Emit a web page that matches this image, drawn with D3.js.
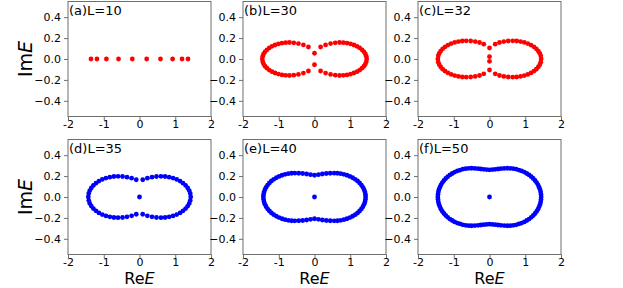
<!DOCTYPE html>
<html><head><meta charset="utf-8">
<script src="https://cdn.jsdelivr.net/npm/d3@7"></script>
<style>body{margin:0;background:#fff}svg{display:block}text{font-family:"DejaVu Sans",sans-serif}</style>
</head><body><svg id="c" width="623" height="288"></svg>
<script>
const titles = ["(a)L=10","(b)L=30","(c)L=32","(d)L=35","(e)L=40","(f)L=50"];
const xTicks = [-2,-1,0,1,2];
const xTickLabels = ["-2","-1","0","1","2"];
const yTicks = [0.4,0.2,0,-0.2,-0.4];
const yTickLabels = ["0.4","0.2","0.0","\u22120.2","\u22120.4"];

const reA = [-1.357,-1.190,-0.926,-0.587,-0.201,0.201,0.587,0.926,1.190,1.357];
const imA = [0,0,0,0,0,0,0,0,0,0];

const reB = [0.17,0.31,0.45,0.58,0.70,0.806,0.909,1.009,1.103,1.189,1.265,1.330,1.383,1.423,1.448,1.46,
 1.448,1.423,1.383,1.330,1.265,1.189,1.103,1.009,0.909,0.806,0.70,0.58,0.45,0.31,0.17,
 -0.17,-0.31,-0.45,-0.58,-0.70,-0.806,-0.909,-1.009,-1.103,-1.189,-1.265,-1.330,-1.383,-1.423,-1.448,-1.46,
 -1.448,-1.423,-1.383,-1.330,-1.265,-1.189,-1.103,-1.009,-0.909,-0.806,-0.70,-0.58,-0.45,-0.31,-0.17,
 0,0];
const imB = [0.115,0.135,0.148,0.155,0.158,0.156,0.152,0.144,0.134,0.121,0.106,0.088,0.069,0.049,0.027,0,
 -0.027,-0.049,-0.069,-0.088,-0.106,-0.121,-0.134,-0.144,-0.152,-0.156,-0.158,-0.155,-0.148,-0.135,-0.115,
 0.115,0.135,0.148,0.155,0.158,0.156,0.152,0.144,0.134,0.121,0.106,0.088,0.069,0.049,0.027,0,
 -0.027,-0.049,-0.069,-0.088,-0.106,-0.121,-0.134,-0.144,-0.152,-0.156,-0.158,-0.155,-0.148,-0.135,-0.115,
 0.055,-0.055];

const reC = [0.16,0.28,0.40,0.525,0.65,0.761,0.869,0.973,1.071,1.161,1.241,1.309,1.365,1.406,1.433,1.445,
 1.433,1.406,1.365,1.309,1.241,1.161,1.071,0.973,0.869,0.761,0.65,0.525,0.40,0.28,0.16,
 -0.16,-0.28,-0.40,-0.525,-0.65,-0.761,-0.869,-0.973,-1.071,-1.161,-1.241,-1.309,-1.365,-1.406,-1.433,-1.445,
 -1.433,-1.406,-1.365,-1.309,-1.241,-1.161,-1.071,-0.973,-0.869,-0.761,-0.65,-0.525,-0.40,-0.28,-0.16,
 0,0,0,0];
const imC = [0.142,0.158,0.167,0.172,0.174,0.172,0.167,0.159,0.148,0.133,0.116,0.097,0.076,0.054,0.030,0,
 -0.030,-0.054,-0.076,-0.097,-0.116,-0.133,-0.148,-0.159,-0.167,-0.172,-0.174,-0.172,-0.167,-0.158,-0.142,
 0.142,0.158,0.167,0.172,0.174,0.172,0.167,0.159,0.148,0.133,0.116,0.097,0.076,0.054,0.030,0,
 -0.030,-0.054,-0.076,-0.097,-0.116,-0.133,-0.148,-0.159,-0.167,-0.172,-0.174,-0.172,-0.167,-0.158,-0.142,
 0.105,0.022,-0.022,-0.105];

const reD = [0.09,0.22,0.35,0.475,0.60,0.716,0.829,0.938,1.041,1.135,1.218,1.290,1.348,1.391,1.419,1.432,
 1.419,1.391,1.348,1.290,1.218,1.135,1.041,0.938,0.829,0.716,0.60,0.475,0.35,0.22,0.09,
 -0.09,-0.22,-0.35,-0.475,-0.60,-0.716,-0.829,-0.938,-1.041,-1.135,-1.218,-1.290,-1.348,-1.391,-1.419,-1.432,
 -1.419,-1.391,-1.348,-1.290,-1.218,-1.135,-1.041,-0.938,-0.829,-0.716,-0.60,-0.475,-0.35,-0.22,-0.09,
 0];
const imD = [0.165,0.180,0.190,0.196,0.198,0.196,0.190,0.181,0.168,0.152,0.132,0.111,0.087,0.061,0.034,0,
 -0.034,-0.061,-0.087,-0.111,-0.132,-0.152,-0.168,-0.181,-0.190,-0.196,-0.198,-0.196,-0.190,-0.180,-0.165,
 0.165,0.180,0.190,0.196,0.198,0.196,0.190,0.181,0.168,0.152,0.132,0.111,0.087,0.061,0.034,0,
 -0.034,-0.061,-0.087,-0.111,-0.132,-0.152,-0.168,-0.181,-0.190,-0.196,-0.198,-0.196,-0.190,-0.180,-0.165,
 0];

const reE = [0.11,0.22,0.33,0.44,0.55,0.642,0.733,0.822,0.908,0.990,1.067,1.139,1.204,1.262,1.312,1.354,1.387,1.411,1.425,1.430,
 1.425,1.411,1.387,1.354,1.312,1.262,1.204,1.139,1.067,0.990,0.908,0.822,0.733,0.642,0.55,0.44,0.33,0.22,0.11,
 -0.11,-0.22,-0.33,-0.44,-0.55,-0.642,-0.733,-0.822,-0.908,-0.990,-1.067,-1.139,-1.204,-1.262,-1.312,-1.354,-1.387,-1.411,-1.425,-1.430,
 -1.425,-1.411,-1.387,-1.354,-1.312,-1.262,-1.204,-1.139,-1.067,-0.990,-0.908,-0.822,-0.733,-0.642,-0.55,-0.44,-0.33,-0.22,-0.11,
 0,0,0];
const imE = [0.214,0.220,0.225,0.227,0.228,0.227,0.223,0.217,0.208,0.197,0.184,0.169,0.153,0.134,0.114,0.093,0.070,0.047,0.024,0,
 -0.024,-0.047,-0.070,-0.093,-0.114,-0.134,-0.153,-0.169,-0.184,-0.197,-0.208,-0.217,-0.223,-0.227,-0.228,-0.227,-0.225,-0.220,-0.214,
 0.214,0.220,0.225,0.227,0.228,0.227,0.223,0.217,0.208,0.197,0.184,0.169,0.153,0.134,0.114,0.093,0.070,0.047,0.024,0,
 -0.024,-0.047,-0.070,-0.093,-0.114,-0.134,-0.153,-0.169,-0.184,-0.197,-0.208,-0.217,-0.223,-0.227,-0.228,-0.227,-0.225,-0.220,-0.214,
 0.208,-0.208,0];

const reF = [0.08,0.16,0.24,0.32,0.41,0.50,0.582,0.664,0.745,0.823,0.899,0.973,1.042,1.107,1.168,1.224,1.274,1.318,1.356,1.388,1.413,1.431,1.441,1.445,
 1.441,1.431,1.413,1.388,1.356,1.318,1.274,1.224,1.168,1.107,1.042,0.973,0.899,0.823,0.745,0.664,0.582,0.50,0.41,0.32,0.24,0.16,0.08,
 -0.08,-0.16,-0.24,-0.32,-0.41,-0.50,-0.582,-0.664,-0.745,-0.823,-0.899,-0.973,-1.042,-1.107,-1.168,-1.224,-1.274,-1.318,-1.356,-1.388,-1.413,-1.431,-1.441,-1.445,
 -1.441,-1.431,-1.413,-1.388,-1.356,-1.318,-1.274,-1.224,-1.168,-1.107,-1.042,-0.973,-0.899,-0.823,-0.745,-0.664,-0.582,-0.50,-0.41,-0.32,-0.24,-0.16,-0.08,
 0,0,0];
const imF = [0.262,0.265,0.268,0.271,0.273,0.275,0.274,0.271,0.266,0.258,0.249,0.238,0.225,0.211,0.194,0.177,0.158,0.138,0.116,0.094,0.071,0.048,0.024,0,
 -0.024,-0.048,-0.071,-0.094,-0.116,-0.138,-0.158,-0.177,-0.194,-0.211,-0.225,-0.238,-0.249,-0.258,-0.266,-0.271,-0.274,-0.275,-0.273,-0.271,-0.268,-0.265,-0.262,
 0.262,0.265,0.268,0.271,0.273,0.275,0.274,0.271,0.266,0.258,0.249,0.238,0.225,0.211,0.194,0.177,0.158,0.138,0.116,0.094,0.071,0.048,0.024,0,
 -0.024,-0.048,-0.071,-0.094,-0.116,-0.138,-0.158,-0.177,-0.194,-0.211,-0.225,-0.238,-0.249,-0.258,-0.266,-0.271,-0.274,-0.275,-0.273,-0.271,-0.268,-0.265,-0.262,
 0.26,-0.26,0];

const panelRe = [reA, reB, reC, reD, reE, reF];
const panelIm = [imA, imB, imC, imD, imE, imF];
const panelColor = ["#ff0000","#ff0000","#ff0000","#0000ff","#0000ff","#0000ff"];

const svg = d3.select("#c");
const colX = [68, 243, 418], pw = 143;
const rowY = [1.5, 139.5], ph = 115;
const spine = "#6e6e6e";

titles.forEach((t, i) => {
  const r = Math.floor(i / 3), c = i % 3;
  const x0 = colX[c], y0 = rowY[r];
  const x = d3.scaleLinear().domain([-2, 2]).range([x0, x0 + pw]);
  const y = d3.scaleLinear().domain([-0.55, 0.55]).range([y0 + ph, y0]);
  const g = svg.append("g");

  const ax = g.append("g").attr("transform", `translate(0,${y0 + ph})`)
    .call(d3.axisBottom(x).tickValues(xTicks).tickFormat((d, k) => xTickLabels[k]).tickSize(3.5).tickPadding(0.5));
  const ay = g.append("g").attr("transform", `translate(${x0},0)`)
    .call(d3.axisLeft(y).tickValues(yTicks).tickFormat((d, k) => yTickLabels[k]).tickSize(4).tickPadding(3));
  [ax, ay].forEach(a => {
    a.select(".domain").remove();
    a.selectAll(".tick line").attr("stroke", spine);
    a.selectAll(".tick text").attr("fill", "#000").style("font-size", "11px").style("font-family", "DejaVu Sans");
  });

  g.append("rect").attr("x", x0).attr("y", y0).attr("width", pw).attr("height", ph)
    .attr("fill", "none").attr("stroke", spine).attr("stroke-width", 1);

  const re = panelRe[i], im = panelIm[i];
  g.append("g").selectAll("circle").data(re.map((v, k) => [v, im[k]])).join("circle")
    .attr("cx", d => x(d[0])).attr("cy", d => y(d[1])).attr("r", 2.4)
    .attr("fill", panelColor[i]);

  g.append("text").attr("x", x0 + 1).attr("y", y0 + 13).style("font-size", "13px").text(t);

  if (c === 0) {
    const lab = g.append("text").attr("transform", `translate(32,${y0 + ph / 2}) rotate(-90)`)
      .attr("text-anchor", "middle").style("font-size", "19px");
    lab.append("tspan").text("Im");
    lab.append("tspan").style("font-style", "italic").text("E");
  }
  if (r === 1) {
    const lab = g.append("text").attr("x", x0 + pw / 2).attr("y", 284.2)
      .attr("text-anchor", "middle").style("font-size", "16px");
    lab.append("tspan").text("Re");
    lab.append("tspan").style("font-style", "italic").text("E");
  }
});
</script></body></html>
